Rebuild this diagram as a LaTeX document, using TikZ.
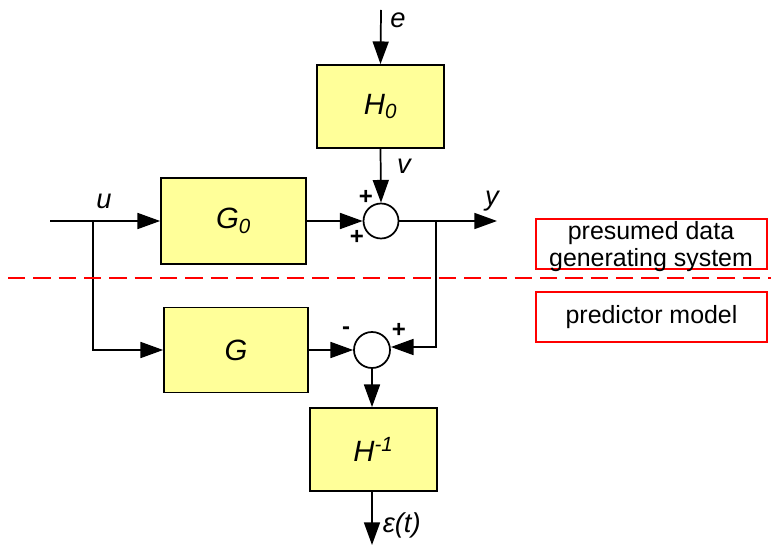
\documentclass[tikz,border=0pt]{standalone}
\usepackage{fontspec}
\setmainfont{Liberation Sans}
\usetikzlibrary{arrows.meta}
\definecolor{blkfill}{RGB}{255,255,153}
\begin{document}
\begin{tikzpicture}[x=0.75pt,y=-0.75pt,
  line width=1.3pt,
  blk/.style={draw, line width=1.3pt, fill=blkfill, inner sep=0pt, font=\fontsize{22}{25}\selectfont\itshape},
  sumc/.style={draw, circle, line width=1.3pt, fill=white, inner sep=0pt},
  arr/.style={-{Triangle[length=17pt,width=12pt]}},
  lbl/.style={font=\fontsize{20.5}{23}\selectfont\itshape, inner sep=0pt},
  sgn/.style={font=\fontsize{18}{20}\selectfont\bfseries, inner sep=0pt},
  redbox/.style={draw=red, line width=1pt, inner sep=0pt},
  redtxt/.style={inner sep=0pt, align=center, font=\fontsize{18.7}{20.25}\selectfont}
]
\useasboundingbox (0,0) rectangle (771,545);
% blocks
\node[blk, minimum width=127*0.75pt, minimum height=83*0.75pt] (H0) at (380.5,106.5) {H\textsubscript{0}};
\node[blk, minimum width=145*0.75pt, minimum height=86*0.75pt] (G0) at (233.5,221) {G\textsubscript{0}};
\node[blk, minimum width=144*0.75pt, minimum height=85*0.75pt] (G) at (236,350) {G};
\node[blk, minimum width=127*0.75pt, minimum height=83*0.75pt] (Hinv) at (373.5,449.5) {H\textsuperscript{-1}};
\node[sumc, minimum size=35*0.75pt] (s1) at (381,221) {};
\node[sumc, minimum size=36*0.75pt] (s2) at (372,350) {};
% free ends and junctions
\coordinate (ein) at (381,10);
\coordinate (uin) at (50,221);
\coordinate (uj) at (93,221);
\coordinate (yj) at (436,221);
\coordinate (yout) at (497,221);
\coordinate (epsout) at (372,545);
% connectors
\draw[arr] (ein) -- (H0.north);
\draw[arr] (H0.south) -- (s1.north);
\draw[arr] (uin) -- (G0.west);
\draw[arr] (uj) |- (G.west);
\draw[arr] (G0.east) -- (s1.west);
\draw[arr] (s1.east) -- (yout);
\draw[arr] (yj) |- ([yshift=2.25pt]s2.east);
\draw[arr] (G.east) -- (s2.west);
\draw[arr] (s2.south) -- (s2.south |- Hinv.north);
\draw[arr] (Hinv.south -| s2.south) -- (epsout);
% labels
\node[lbl] (le) at (398,20) {e};
\node[lbl] (lv) at (404,166) {v};
\node[lbl] (lu) at (104,201) {u};
\node[lbl] (ly) at (492,201) {y};
\node[lbl, anchor=west] (leps) at (382,525) {ε(t)};
\node[sgn] (p1) at (366,197) {+};
\node[sgn] (p2) at (357,237) {+};
\node[sgn] (m1) at (346,331) {-};
\node[sgn] (p3) at (399,330) {+};
% separator
\draw[red, line width=1.1pt, dash pattern=on 13pt off 6pt] (8,278) -- (771,278);
% red boxes
\node[redbox, minimum width=231*0.75pt, minimum height=50*0.75pt] (rb1) at (651.5,244) {};
\node[redtxt] (t1) at (651,247) {presumed data\\generating system};
\node[redbox, redtxt, minimum width=231*0.75pt, minimum height=50*0.75pt] (rb2) at (651.5,317) {predictor model};
\end{tikzpicture}
\end{document}
